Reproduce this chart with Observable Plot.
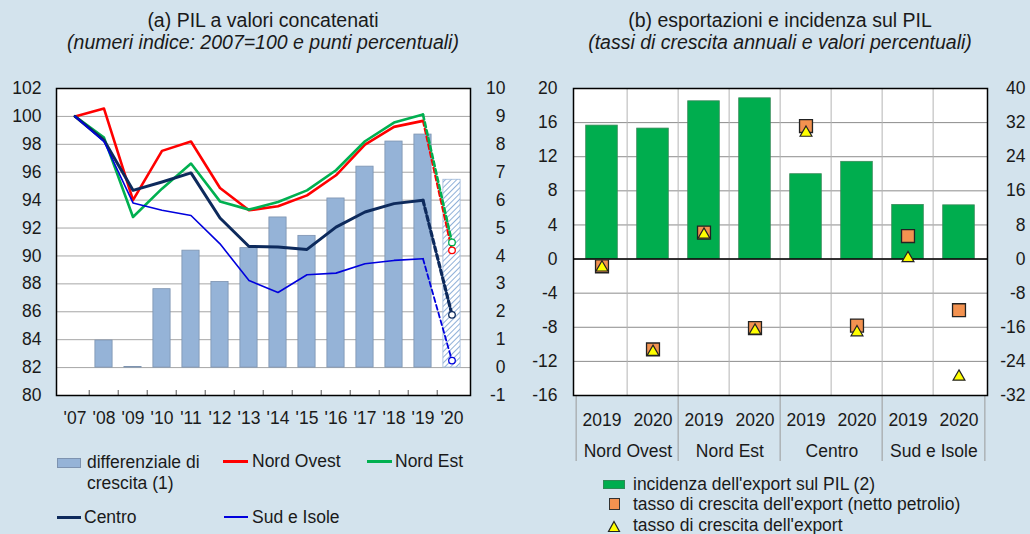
<!DOCTYPE html>
<html><head><meta charset="utf-8">
<script src="https://cdn.jsdelivr.net/npm/d3@7"></script>
<script src="https://cdn.jsdelivr.net/npm/@observablehq/plot@0.6"></script>
<style>
html,body{margin:0;padding:0}
body{width:1030px;height:534px;background:#d3e3ed;font-family:"Liberation Sans",Arial,sans-serif;color:#1a1a1a;position:relative;overflow:hidden}
.abs{position:absolute;white-space:nowrap}
.title{font-size:19.5px;text-align:center;width:440px;line-height:22px}
.sub{font-style:italic}
.leg{font-size:17.5px;line-height:21px}
</style></head><body>
<div class="abs title" style="left:43px;top:9px">(a) PIL a valori concatenati</div>
<div class="abs title sub" style="left:43px;top:31px">(numeri indice: 2007=100 e punti percentuali)</div>
<div class="abs title" style="left:560px;top:9px">(b) esportazioni e incidenza sul PIL</div>
<div class="abs title sub" style="left:560px;top:31px">(tassi di crescita annuali e valori percentuali)</div>
<div id="left" class="abs" style="left:0;top:70px"></div>
<div id="right" class="abs" style="left:515px;top:70px"></div>

<div class="abs" style="left:57px;top:458px;width:22px;height:8px;background:#95b3d7;border:1px solid #7d93b0"></div>
<div class="abs leg" style="left:87px;top:452px">differenziale di<br>crescita (1)</div>
<div class="abs" style="left:223px;top:460px;width:25px;height:3px;background:#ff0000"></div>
<div class="abs leg" style="left:252px;top:451px">Nord Ovest</div>
<div class="abs" style="left:367px;top:460px;width:25px;height:3px;background:#00b050"></div>
<div class="abs leg" style="left:395px;top:451px">Nord Est</div>
<div class="abs" style="left:57px;top:516px;width:24px;height:3px;background:#0d2a5c"></div>
<div class="abs leg" style="left:84px;top:507px">Centro</div>
<div class="abs" style="left:224px;top:516px;width:24px;height:2px;background:#0000dd"></div>
<div class="abs leg" style="left:252px;top:507px">Sud e Isole</div>

<div class="abs" style="left:603px;top:480px;width:20px;height:7px;background:#00ad4e;border:1px solid #2e8a55"></div>
<div class="abs leg" style="left:633px;top:474px">incidenza dell'export sul PIL (2)</div>
<div class="abs" style="left:609px;top:498px;width:9px;height:10px;background:#f39250;border:1px solid #333"></div>
<div class="abs leg" style="left:633px;top:494px">tasso di crescita dell'export (netto petrolio)</div>
<svg class="abs" style="left:607px;top:520px" width="14" height="13"><path d="M7,1.5 L12.5,11.5 L1.5,11.5 Z" fill="#ffff00" stroke="#222" stroke-width="1.2"/></svg>
<div class="abs leg" style="left:633px;top:515px">tasso di crescita dell'export</div>

<script>
// ---- Panel (a) data ----
const years = ["'07","'08","'09","'10","'11","'12","'13","'14","'15","'16","'17","'18","'19","'20"];
const nordOvest = [100, 100.56, 94.0, 97.53, 98.2, 94.87, 93.27, 93.56, 94.34, 95.78, 97.98, 99.25, 99.68, 90.4];
const nordEst   = [100, 98.48, 92.79, 94.82, 96.62, 93.91, 93.32, 93.87, 94.7, 96.14, 98.22, 99.56, 100.13, 90.97];
const centro    = [100, 98.29, 94.7, 95.3, 95.95, 92.72, 90.68, 90.64, 90.47, 92.07, 93.15, 93.75, 93.99, 85.78];
const sudIsole  = [100, 98.2, 93.8, 93.27, 92.9, 90.87, 88.24, 87.38, 88.65, 88.77, 89.44, 89.68, 89.8, 82.5];
const differenziale = [null, 0.97, 0.02, 2.81, 4.19, 3.07, 4.28, 5.38, 4.72, 6.06, 7.2, 8.1, 8.35, 6.73];
const leftTicks = [80,82,84,86,88,90,92,94,96,98,100,102];

// ---- Panel (b) data ----
const regions = ["Nord Ovest","Nord Est","Centro","Sud e Isole"];
const periods = ["2019","2020"];
const incidenza = [31.3, 30.6, 37.0, 37.7, 19.9, 22.8, 12.7, 12.6];
const crescitaNettoPetrolio = [-0.85, -10.6, 3.1, -8.1, 15.6, -7.8, 2.7, -6.0];
const crescita = [-1.0, -10.9, 2.85, -8.4, 14.8, -8.6, 0.1, -13.8];
const rightTicks = [-16,-12,-8,-4,0,4,8,12,16,20];

const font = {background:"transparent", fontFamily:"'Liberation Sans', Arial, sans-serif", fontSize:"17.5px", color:"#1a1a1a", overflow:"visible"};

// ---- Panel (a) ----
const rightZero = 82, rightMult = 2;
const barData = years.map((y,i)=>({year:y, v:differenziale[i]})).filter(d=>d.v!=null);
const series = [
  {name:"Nord Ovest", values:nordOvest, color:"#ff0000", w:2.6, dw:2.2},
  {name:"Nord Est", values:nordEst, color:"#00b050", w:2.6, dw:2.6},
  {name:"Centro", values:centro, color:"#0d2a5c", w:3, dw:3.2},
  {name:"Sud e Isole", values:sudIsole, color:"#0000dd", w:1.6, dw:1.8}
];
const stepL = 414/14;
const lineMarks = [];
for (const s of series) {
  const pts = years.map((y,i)=>({year:y, v:s.values[i]}));
  lineMarks.push(Plot.line(pts.slice(0,13), {x:"year", y:"v", stroke:s.color, strokeWidth:s.w}));
  lineMarks.push(Plot.line(pts.slice(12), {x:"year", y:"v", stroke:s.color, strokeWidth:s.dw, strokeDasharray:"5,3"}));
}
const endDots = series.map(s=>({year:"'20", v:s.values[13], c:s.color}));

const left = Plot.plot({
  width:515, height:365, marginTop:18, marginBottom:40, marginLeft:56, marginRight:45,
  style:font,
  x:{type:"band", domain:years, padding:0, label:null},
  y:{domain:[80,102], label:null},
  marks:[
    Plot.frame({fill:"white"}),
    Plot.gridY(leftTicks, {stroke:"#a6a6a6", strokeOpacity:1}),
    Plot.barY(barData.filter(d=>d.year!=="'20"), {x:"year", y1:rightZero, y2:d=>rightZero+rightMult*d.v, fill:"#95b3d7", stroke:"#7d93b0", strokeWidth:0.8, insetLeft:5.9, insetRight:5.9}),
    Plot.barY(barData.filter(d=>d.year==="'20"), {x:"year", y1:rightZero, y2:d=>rightZero+rightMult*d.v, fill:"url(#hatch)", stroke:"#9db8da", strokeWidth:0.8, insetLeft:5.9, insetRight:5.9}),
    ...lineMarks,
    Plot.dot(endDots, {x:"year", y:"v", r:3.3, fill:"white", stroke:d=>d.c, strokeWidth:1.3}),
    Plot.ruleX(years.slice(1), {dx:-stepL/2, insetTop:302, stroke:"#555"}),
    Plot.frame({stroke:"black", strokeWidth:1.5}),
    Plot.axisY({ticks:leftTicks, tickSize:0, tickPadding:15, label:null}),
    Plot.axisY({anchor:"right", ticks:leftTicks, tickSize:0, tickFormat:d=>String((d-rightZero)/rightMult), textAnchor:"end", dx:26, label:null}),
    Plot.axisX({tickSize:0, tickPadding:16, label:null})
  ]
});
left.insertAdjacentHTML("afterbegin", '<defs><pattern id="hatch" width="4" height="4" patternUnits="userSpaceOnUse" patternTransform="rotate(45)"><rect width="4" height="4" fill="white"/><line x1="0" y1="0" x2="0" y2="4" stroke="#8fb0d8" stroke-width="2"/></pattern></defs>');
document.getElementById("left").append(left);

// ---- Panel (b) ----
const rows = regions.flatMap((r,i)=>periods.map((p,j)=>({
  key:r+"|"+p, region:r, year:p,
  inc:incidenza[i*2+j], sq:crescitaNettoPetrolio[i*2+j], tri:crescita[i*2+j]
})));
const keys = rows.map(d=>d.key);
const stepR = 414/8;
const groupStarts = regions.map(r=>r+"|2019");
const right = Plot.plot({
  width:515, height:400, marginTop:18, marginBottom:75, marginLeft:58, marginRight:43,
  style:font,
  x:{type:"band", domain:keys, padding:0, label:null},
  y:{domain:[-16,20], label:null},
  marks:[
    Plot.frame({fill:"white"}),
    Plot.gridY(rightTicks, {stroke:"#8c8c8c", strokeOpacity:1}),
    Plot.ruleX(keys.slice(1), {dx:-stepR/2, stroke:"#b4b4b4"}),
    Plot.ruleX(groupStarts, {dx:-stepR/2, insetTop:307, insetBottom:-66, stroke:"#9a9a9a"}),
    Plot.ruleX([keys[keys.length-1]], {dx:stepR/2, insetTop:307, insetBottom:-66, stroke:"#9a9a9a"}),
    Plot.barY(rows, {x:"key", y:d=>d.inc/2, fill:"#00ad4e", stroke:"#3a8a5a", strokeWidth:0.8, insetLeft:9.7, insetRight:9.7}),
    Plot.ruleY([0], {stroke:"black", strokeWidth:1.5}),
    Plot.dot(rows, {x:"key", y:"sq", symbol:"square", r:7.3, fill:"#f39250", stroke:"#222", strokeWidth:1.3}),
    Plot.dot(rows, {x:"key", y:"tri", symbol:"triangle", r:4.4, fill:"#ffff00", stroke:"#222", strokeWidth:1.2}),
    Plot.frame({stroke:"black", strokeWidth:1.5}),
    Plot.axisY({ticks:rightTicks, tickSize:0, tickPadding:16, tickFormat:d=>String(d), label:null}),
    Plot.axisY({anchor:"right", ticks:rightTicks, tickSize:0, tickFormat:d=>String(d*2), textAnchor:"end", dx:29, label:null}),
    Plot.axisX({tickSize:0, tickPadding:18, tickFormat:k=>k.split("|")[1], label:null}),
    Plot.text(regions, {x:r=>r+"|2019", dx:stepR/2, frameAnchor:"bottom", dy:61, text:d=>d})
  ]
});
document.getElementById("right").append(right);
</script>
</body></html>
